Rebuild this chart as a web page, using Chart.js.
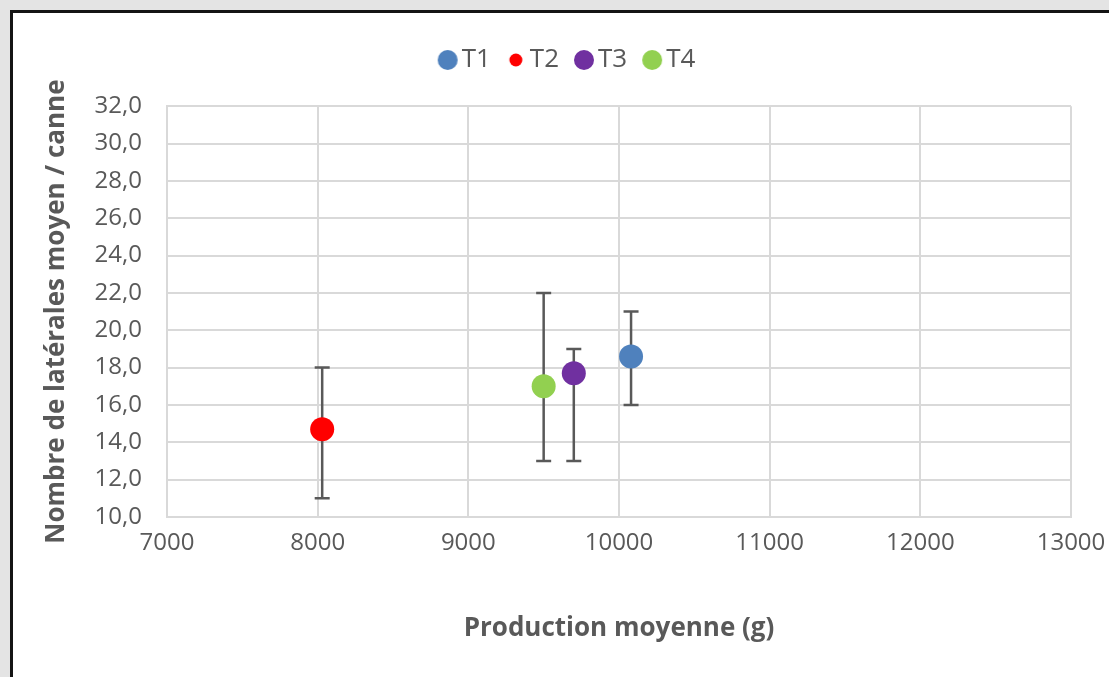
<!DOCTYPE html>
<html lang="fr">
<head>
<meta charset="utf-8">
<title>Production moyenne vs latérales</title>
<script src="https://cdn.jsdelivr.net/npm/chart.js@4.4.1/dist/chart.umd.min.js"></script>
<style>
  html, body { margin: 0; padding: 0; overflow: hidden; }
  body { background: #e4e4e4; width: 1109px; height: 677px; position: relative; }
  .frame {
    position: absolute; left: 10px; top: 10px;
    width: 1200px; height: 800px;
    border: 3px solid #141414; background: #fff;
  }
  /* canvas is a bit wider than the window: the frame runs past the right edge */
  .chart-box { position: absolute; left: 0; top: 0; width: 1150px; height: 677px; }
</style>
</head>
<body>
<div class="frame"></div>
<div class="chart-box"><canvas id="scatterChart"></canvas></div>
<script>
// Data
const seriesNames = ['T1', 'T2', 'T3', 'T4'];
const production = [10080, 8030, 9700, 9500];      // x, g
const laterales = [18.6, 14.7, 17.7, 17.0];         // y
const errLow = [16, 11, 13, 13];
const errHigh = [21, 18, 19, 22];
const xRange = [7000, 13000];
const yRange = [10, 32];

const colors = ['#4F81BD', '#FF0000', '#7030A0', '#92D050'];
const legendRadius = [10, 6.5, 10, 10];
const gray = '#595959';

// small canvases so each legend marker can have its own size
function legendDot(color, r) {
  const c = document.createElement('canvas');
  c.width = 22; c.height = 22;
  const g = c.getContext('2d');
  g.fillStyle = color;
  g.beginPath();
  g.arc(11, 11, r, 0, Math.PI * 2);
  g.fill();
  return c;
}

// Error bars drawn through the chart scales
const errorBars = {
  id: 'errorBars',
  beforeDatasetsDraw(chart) {
    const {ctx, scales: {x, y}} = chart;
    ctx.save();
    ctx.strokeStyle = gray;
    ctx.lineWidth = 2.5;
    seriesNames.forEach((name, i) => {
      const px = x.getPixelForValue(production[i]);
      const top = y.getPixelForValue(errHigh[i]);
      const bot = y.getPixelForValue(errLow[i]);
      ctx.beginPath();
      ctx.moveTo(px, top); ctx.lineTo(px, bot);
      ctx.moveTo(px - 7.5, top); ctx.lineTo(px + 7.5, top);
      ctx.moveTo(px - 7.5, bot); ctx.lineTo(px + 7.5, bot);
      ctx.stroke();
    });
    ctx.restore();
  }
};

const ctx = document.getElementById('scatterChart').getContext('2d');
new Chart(ctx, {
  type: 'scatter',
  data: {
    datasets: seriesNames.map((name, i) => ({
      label: name,
      data: [{x: production[i], y: laterales[i]}],
      backgroundColor: colors[i],
      borderWidth: 0,
      pointRadius: 12,
      pointHoverRadius: 12
    }))
  },
  options: {
    responsive: true,
    maintainAspectRatio: false,
    animation: false,
    layout: { padding: { left: 12, right: 20, top: 23, bottom: 0 } },
    plugins: {
      tooltip: { enabled: false },
      // empty title used only as a gap between legend and plot
      title: {
        display: true,
        text: ' ',
        weight: 500,
        font: { size: 1 },
        padding: { top: 0, bottom: 22 }
      },
      legend: {
        position: 'top',
        weight: 3000,
        labels: {
          usePointStyle: true,
          pointStyleWidth: 2,
          padding: 24,
          color: gray,
          font: { family: 'Open Sans', size: 26 },
          generateLabels(chart) {
            return chart.data.datasets.map((ds, i) => ({
              text: ds.label,
              fillStyle: colors[i],
              strokeStyle: colors[i],
              lineWidth: 0,
              pointStyle: legendDot(colors[i], legendRadius[i]),
              fontColor: gray,
              datasetIndex: i,
              hidden: false
            }));
          }
        }
      }
    },
    scales: {
      x: {
        type: 'linear',
        min: xRange[0],
        max: xRange[1],
        afterFit(scale) {
          scale.height = 160;
          scale.paddingLeft = 0;
          scale.paddingRight = 79;
        },
        ticks: {
          stepSize: 1000,
          padding: 12,
          color: gray,
          font: { family: 'Open Sans', size: 24 },
          callback: v => String(v)
        },
        grid: { color: '#d9d9d9', lineWidth: 2, drawTicks: false },
        border: { color: '#d9d9d9', width: 2 },
        title: {
          display: true,
          text: 'Production moyenne (g)',
          color: gray,
          font: { family: 'Open Sans', size: 26, weight: 'bold' },
          padding: { top: 0, bottom: 33 }
        }
      },
      y: {
        type: 'linear',
        min: yRange[0],
        max: yRange[1],
        afterFit(scale) {
          scale.width = 155;
          scale.paddingTop = 0;
          scale.paddingBottom = 0;
        },
        ticks: {
          stepSize: 2,
          padding: 25,
          color: gray,
          font: { family: 'Open Sans', size: 24 },
          callback: v => v.toFixed(1).replace('.', ',')
        },
        grid: { color: '#d9d9d9', lineWidth: 2, drawTicks: false },
        border: { color: '#d9d9d9', width: 2 },
        title: {
          display: true,
          text: 'Nombre de latérales moyen / canne',
          color: gray,
          font: { family: 'Open Sans', size: 26, weight: 'bold' },
          padding: { top: 29, bottom: 0 }
        }
      }
    }
  },
  plugins: [errorBars]
});
</script>
</body>
</html>
